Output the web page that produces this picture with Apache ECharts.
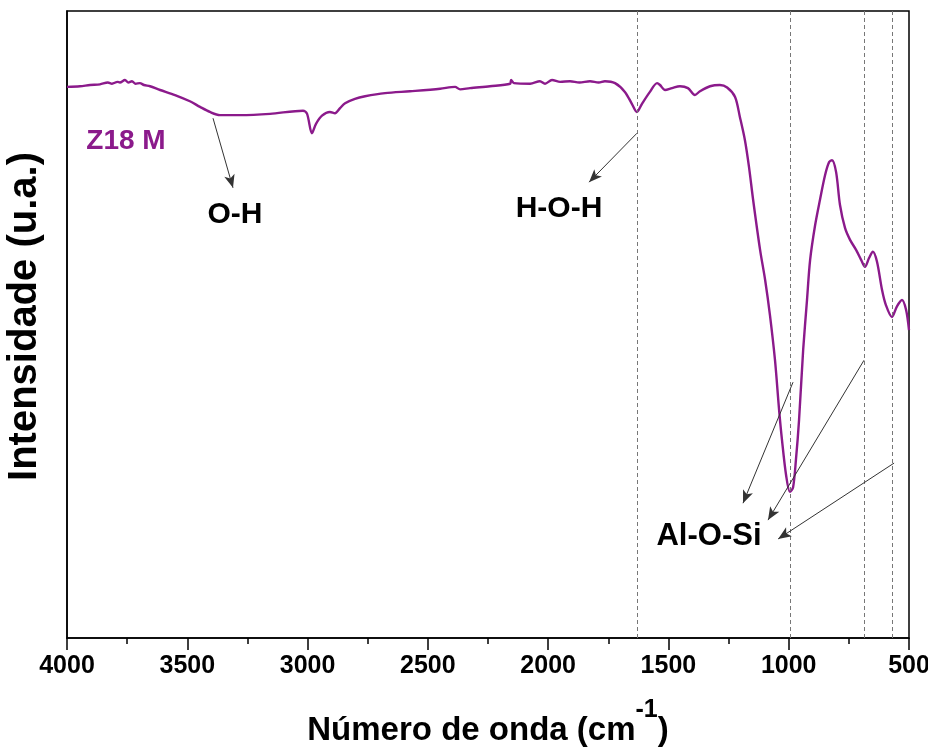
<!DOCTYPE html>
<html>
<head>
<meta charset="utf-8">
<script src="https://cdn.jsdelivr.net/npm/echarts@6/dist/echarts.min.js"></script>
<style>
  html, body { margin: 0; padding: 0; background: #fff; }
  #chart { width: 928px; height: 753px; }
</style>
</head>
<body>
<div id="chart"></div>
<script>
// FTIR spectrum of sample Z18 M
const wavenumber = [
  4000, 3946, 3904, 3863, 3830, 3813, 3790, 3780, 3759, 3745, 3730, 3715, 3697, 3680, 3655,
  3613, 3551, 3489, 3447, 3406, 3364, 3281, 3156, 3019, 3002, 2982, 2965, 2940,
  2907, 2886, 2865, 2844, 2803, 2761, 2678, 2574, 2449, 2387, 2366, 2325, 2242,
  2158, 2154, 2142, 2075, 2034, 2013, 1984, 1950, 1909, 1870, 1826, 1790, 1764, 1722, 1681,
  1652, 1631, 1610, 1577, 1547, 1535, 1514, 1485, 1452, 1419, 1390, 1369, 1327,
  1286, 1256, 1223, 1203, 1182, 1165, 1148, 1119, 1098, 1078, 1057, 1040, 1028,
  1011, 995, 982, 970, 957, 940, 924, 911, 890, 870, 849, 832, 820, 803, 787,
  766, 745, 720, 699, 683, 666, 650, 633, 612, 596, 571, 550, 529, 512, 500
];
const intensity = [
  87.9, 88.0, 88.2, 88.3, 88.6, 88.4, 88.7, 88.6, 89.0, 88.6, 88.8, 88.4, 88.5, 88.2, 88.0,
  87.4, 86.6, 85.6, 84.7, 83.9, 83.4, 83.4, 83.6, 84.1, 83.6, 80.5, 82.0, 83.3,
  83.9, 83.7, 84.5, 85.3, 86.0, 86.4, 86.9, 87.2, 87.6, 87.9, 87.5, 87.7, 88.0,
  88.4, 89.0, 88.5, 88.4, 88.8, 88.4, 89.0, 88.7, 88.8, 88.6, 88.8, 88.6, 88.8, 88.5, 87.1,
  85.2, 83.9, 85.2, 87.1, 88.5, 88.2, 87.4, 87.7, 88.0, 87.7, 86.6, 87.2, 88.0,
  88.2, 87.8, 86.3, 83.1, 79.4, 75.1, 69.9, 61.9, 57.1, 51.5, 44.3, 36.4, 31.6,
  26.0, 23.3, 24.0, 28.4, 34.8, 45.9, 53.9, 60.3, 65.9, 69.9, 73.8, 75.9, 76.2, 74.3, 69.1,
  65.4, 63.5, 61.9, 60.3, 59.2, 60.6, 61.6, 60.0, 55.5, 53.1, 51.2, 52.9, 53.9, 52.3, 49.1
];

// band positions marked with dashed guides
const bandLines = [1631, 995, 687, 571];

// annotation arrows: [from, to] in (wavenumber, intensity)
const arrows = [
  [[3393, 82.9], [3310, 71.8]],
  [[1631, 80.5], [1830, 72.7]],
  [[982, 40.8], [1190, 21.5]],
  [[687, 44.3], [1086, 18.8]],
  [[562, 27.9], [1044, 15.8]]
];

const xTicks = { min: 500, max: 4000, step: 500 };
const yRange = { min: 0, max: 100 };

const purple = '#8B1A8B';
const font = 'Liberation Sans, Arial, sans-serif';

const chart = echarts.init(document.getElementById('chart'), null, { renderer: 'canvas' });

chart.setOption({
  backgroundColor: '#fff',
  animation: false,
  grid: {
    left: 67, right: 19, top: 11, bottom: 115,
    outerBoundsMode: 'none',
    containLabel: false,
    show: true, borderColor: '#000', borderWidth: 1.5, backgroundColor: 'transparent'
  },
  xAxis: {
    type: 'value',
    min: xTicks.min, max: xTicks.max, interval: xTicks.step,
    inverse: true,
    axisLine: { show: true, onZero: false, lineStyle: { color: '#000', width: 1.5 } },
    axisTick: { show: true, inside: false, length: 12, lineStyle: { color: '#000', width: 1.5 } },
    minorTick: { show: true, splitNumber: 2, length: 6, lineStyle: { color: '#000', width: 1.5 } },
    splitLine: { show: false },
    axisLabel: {
      show: true, margin: 16, color: '#000', fontFamily: font, fontWeight: 'bold', fontSize: 25,
      showMinLabel: true, showMaxLabel: true,
      formatter: v => String(v)
    },
    name: '{a|Número de onda (cm}{s|-1}{a|)}',
    nameLocation: 'middle',
    nameGap: 60,
    nameTextStyle: {
      rich: {
        a: { fontFamily: font, fontWeight: 'bold', fontSize: 33, color: '#000', lineHeight: 36, verticalAlign: 'bottom' },
        s: { fontFamily: font, fontWeight: 'bold', fontSize: 25, color: '#000', lineHeight: 49, verticalAlign: 'top' }
      }
    }
  },
  yAxis: {
    type: 'value',
    min: yRange.min, max: yRange.max,
    axisLine: { show: true, lineStyle: { color: '#000', width: 1.5 } },
    axisTick: { show: false },
    axisLabel: { show: false },
    splitLine: { show: false },
    name: 'Intensidade (u.a.)',
    nameLocation: 'middle',
    nameGap: 22,
    nameTextStyle: { fontFamily: font, fontWeight: 'bold', fontSize: 40, color: '#000', padding: [0, 0, 0, 16] }
  },
  series: [
    {
      type: 'line',
      data: wavenumber.map((w, i) => [w, intensity[i]]),
      showSymbol: false,
      smooth: 0.3,
      lineStyle: { color: purple, width: 2.4 },
      z: 3,
      markLine: {
        silent: true,
        symbol: ['none', 'none'],
        label: { show: false },
        lineStyle: { color: '#777', width: 1, type: [4, 3] },
        data: bandLines.map(v => ({ xAxis: v }))
      }
    },
    {
      type: 'line',
      data: [],
      markLine: {
        silent: true,
        symbol: ['none', 'arrow'],
        symbolSize: [8, 13],
        label: { show: false },
        lineStyle: { color: '#333', width: 1, type: 'solid' },
        data: arrows.map(a => [{ coord: a[0] }, { coord: a[1] }])
      }
    }
  ],
  graphic: [
    { type: 'text', x: 126, y: 141, style: { text: 'Z18 M', font: 'bold 28px ' + font, fill: purple, textAlign: 'center', textVerticalAlign: 'middle' } },
    { type: 'text', x: 235, y: 215, style: { text: 'O-H', font: 'bold 30px ' + font, fill: '#000', textAlign: 'center', textVerticalAlign: 'middle' } },
    { type: 'text', x: 559, y: 209, style: { text: 'H-O-H', font: 'bold 30px ' + font, fill: '#000', textAlign: 'center', textVerticalAlign: 'middle' } },
    { type: 'text', x: 709, y: 536, style: { text: 'Al-O-Si', font: 'bold 31px ' + font, fill: '#000', textAlign: 'center', textVerticalAlign: 'middle' } }
  ]
});
</script>
</body>
</html>
